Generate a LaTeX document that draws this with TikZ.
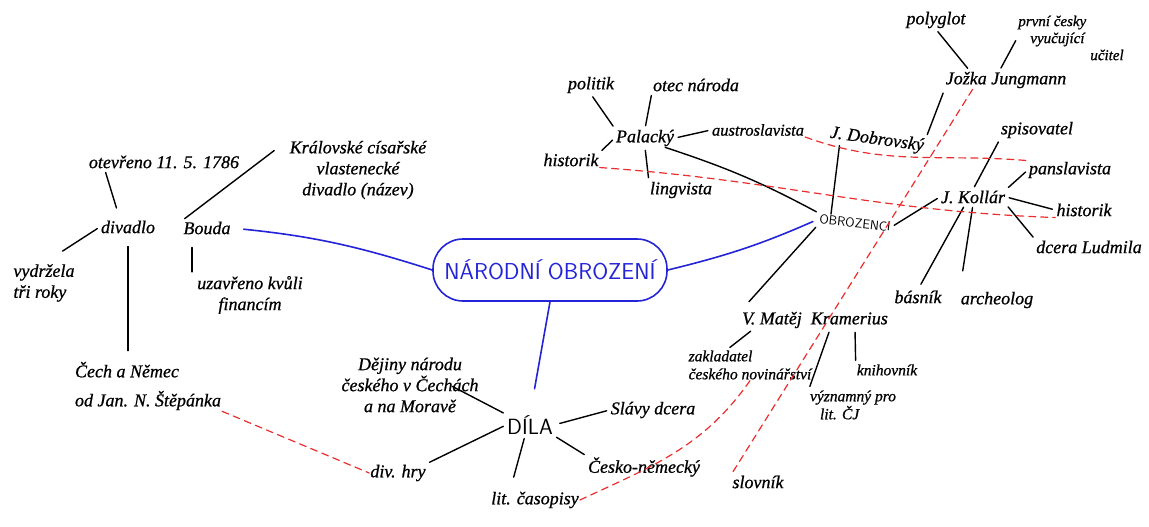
\documentclass[tikz,border=0pt]{standalone}
\usepackage{fontspec}
\usepackage{xcolor}
\newfontfamily\hand{Liberation Serif}[FakeBold=0.8]
\definecolor{obblue}{RGB}{35,35,215}
\definecolor{obred}{RGB}{235,45,45}

\begin{document}
\begin{tikzpicture}[x=1pt,y=-1pt,
  txt/.style={font=\hand\itshape\fontsize{18}{21}\selectfont,inner sep=1pt},
  stxt/.style={font=\hand\itshape\fontsize{15.5}{18}\selectfont,inner sep=1pt},
  caps/.style={font=\fontsize{22}{24}\selectfont\sffamily,inner sep=1pt},
  spoke/.style={line width=1.4pt,line cap=round,shorten <=3pt,shorten >=3pt},
  link/.style={draw=obblue,line width=1.6pt,line cap=round},
  pair/.style={draw=obred,line width=1.2pt,line cap=round,dash pattern=on 7pt off 5pt}]
  \useasboundingbox (0,0) rectangle (1149,527);

  \node[caps,text=obblue,draw=obblue,line width=1.6pt,rounded corners=30pt,
    minimum width=234,minimum height=62,font=\fontsize{23}{25}\selectfont\sffamily]
    (no) at (550,270) {NÁRODNÍ OBROZENÍ};

  \node[txt] (otev) at (164,162) {otevřeno 11. 5. 1786};
  \node[txt,align=center] (kral) at (358,170) {Královské císařské\\vlastenecké\\divadlo (název)};
  \node[txt] (divadlo) at (128,227) {divadlo};
  \node[txt] (bouda) at (207,228) {Bouda};
  \node[txt,align=left] (vydr) at (44,283) {vydržela\\tři roky};
  \node[txt,align=center] (uzav) at (250,295) {uzavřeno kvůli\\financím};
  \node[txt,align=left] (cech) at (148,386) {Čech a Němec\\[8pt]od Jan. N. Štěpánka};

  \node[txt,align=center] (dejiny) at (410,385) {Dějiny národu\\českého v Čechách\\a na Moravě};
  \node[caps] (dila) at (530,425) {DÍLA};
  \node[txt] (slavy) at (653,410) {Slávy dcera};
  \node[txt] (divhry) at (398,473) {div. hry};
  \node[txt] (lit) at (535,500) {lit. časopisy};
  \node[txt] (cesko) at (644,467) {Česko-německý};
  \node[txt] (slovnik) at (758,482) {slovník};

  \node[caps,font=\fontsize{13}{15}\selectfont\sffamily,rotate=-6] (obrozenci) at (855,223) {OBROZENCI};
  \node[txt] (palacky) at (645,138) {Palacký};
  \node[txt] (politik) at (591,85) {politik};
  \node[txt] (otec) at (696,85) {otec národa};
  \node[txt] (hist1) at (571,160) {historik};
  \node[txt] (lingv) at (681,190) {lingvista};
  \node[stxt,font=\hand\itshape\fontsize{16.5}{19}\selectfont] (austro) at (758,130) {austroslavista};
  \node[txt,rotate=-8] (dobrov) at (877,140) {J. Dobrovský};
  \node[txt] (jungmann) at (1006,80) {Jožka Jungmann};
  \node[txt] (polyglot) at (936,20) {polyglot};
  \node[stxt,align=left,font=\hand\itshape\fontsize{15}{17}\selectfont] (prvni) at (1071,38) {první česky\\\hspace*{12pt}vyučující\\\hspace*{72pt}učitel};
  \node[txt] (kollar) at (973,197) {J. Kollár};
  \node[txt] (spis) at (1037,130) {spisovatel};
  \node[txt] (pansl) at (1070,170) {panslavista};
  \node[txt] (hist2) at (1084,210) {historik};
  \node[txt] (dcera) at (1089,247) {dcera Ludmila};
  \node[txt] (basnik) at (918,297) {básník};
  \node[txt] (archeolog) at (997,300) {archeolog};
  \node[txt] (kramer) at (815,320) {V. Matěj \ Kramerius};
  \node[stxt,align=left] (zaklad) at (750,365) {zakladatel\\českého novinářství};
  \node[stxt] (knihov) at (887,370) {knihovník};
  \node[stxt,align=left] (vyznam) at (853,405) {významný pro\\\hspace*{10pt}lit. ČJ};

  \draw[spoke,shorten >=12pt] ([xshift=17]otev.south west) -- ([xshift=-8]divadlo.north);
  \draw[spoke,shorten <=18pt] (kral.north west) -- (bouda.north west);
  \draw[spoke,shorten >=22pt] (divadlo.west) -- (vydr.north);
  \draw[spoke,shorten <=12pt,shorten >=10pt] (divadlo.south) -- (divadlo.south |- cech.north);
  \draw[spoke,shorten <=12pt] ([xshift=-15]bouda.south) -- ([xshift=-58]uzav.north);

  \draw[link,shorten <=12pt] (bouda.east) to[bend left=6] (no.west);
  \draw[link,shorten >=6pt] (no.east) to[bend right=5] (obrozenci.west);
  \draw[link,shorten >=26pt] (no.south) -- (dila.north);

  \draw[spoke] (dila.north west) -- ([xshift=-30]dejiny.east);
  \draw[spoke,shorten <=6pt] (dila.east) -- (slavy.west);
  \draw[spoke] (dila.west) -- (divhry.north east);
  \draw[spoke,shorten >=14pt] ([xshift=-5]dila.south) -- ([xshift=-25]lit.north);
  \draw[spoke] (dila.south east) -- (cesko.north west);

  \draw[spoke] (palacky.north west) -- (politik.south);
  \draw[spoke] (palacky.north) -- (otec.south west);
  \draw[spoke] (palacky.west) -- (hist1.north east);
  \draw[spoke] (palacky.south) -- (lingv.north west);
  \draw[spoke] (palacky.east) -- (austro.west);
  \draw[spoke,shorten <=0pt] ([xshift=-10]palacky.south east) to[bend left=5] (obrozenci.north west);

  \draw[spoke] ([xshift=12]dobrov.south west) -- ([xshift=-25]obrozenci.north);
  \draw[spoke,shorten <=4pt] (jungmann.south west) -- (dobrov.north east);
  \draw[spoke] ([xshift=25]jungmann.north west) -- (polyglot.south);
  \draw[spoke] ([xshift=55]jungmann.north west) -- (prvni.west);
  \draw[spoke] (obrozenci.east) -- (kollar.west);
  \draw[spoke,shorten >=12pt] (obrozenci.south west) -- (kramer.north west);

  \draw[spoke] (kollar.north) -- (spis.south west);
  \draw[spoke] (kollar.north east) -- (pansl.west);
  \draw[spoke] (kollar.east) -- (hist2.west);
  \draw[spoke] (kollar.south east) -- (dcera.north west);
  \draw[spoke,shorten >=6pt] ([xshift=-8]kollar.south) -- (basnik.north);
  \draw[spoke,shorten >=20pt] (kollar.south) -- (archeolog.north west);

  \draw[spoke] ([xshift=12]kramer.south west) -- ([xshift=40]zaklad.north west);
  \draw[spoke] ([xshift=40]kramer.south) -- (knihov.north west);
  \draw[spoke] ([xshift=15]kramer.south) -- (vyznam.north west);

  \draw[pair] (cech.south east) -- (divhry.west);
  \draw[pair] (austro.south east) to[out=-20,in=175] (pansl.north west);
  \draw[pair] (hist1.south east) to[out=-4,in=178] (hist2.south west);
  \draw[pair] ([xshift=28]jungmann.south west) -- (slovnik.north west);
  \draw[pair] (zaklad.south) to[out=-125,in=25] (lit.east);
\end{tikzpicture}
\end{document}
